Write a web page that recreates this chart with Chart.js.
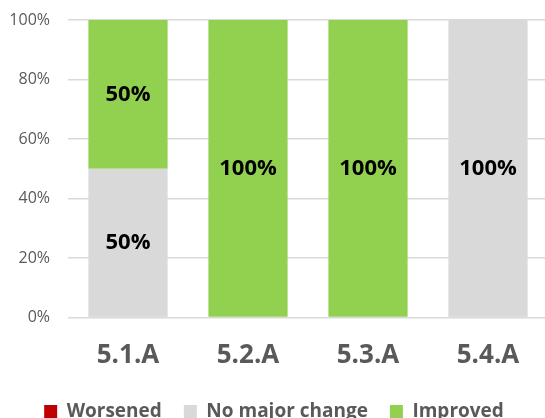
<!DOCTYPE html>
<html>
<head>
<meta charset="utf-8">
<script src="https://cdn.jsdelivr.net/npm/chart.js@4/dist/chart.umd.min.js"></script>
<style>
  html, body { margin: 0; padding: 0; background: #fff; overflow: hidden; }
  #wrap { width: 545px; height: 418px; overflow: hidden; position: relative; }
  canvas { position: absolute; left: 0; top: 0; }
</style>
</head>
<body>
<div id="wrap"><canvas id="chart" width="548" height="431"></canvas></div>
<script>
const categories = ['5.1.A', '5.2.A', '5.3.A', '5.4.A'];
const worsened = [0, 0, 0, 0];
const noMajorChange = [50, 0, 0, 100];
const improved = [50, 100, 100, 0];
const yTicks = [0, 20, 40, 60, 80, 100];

const FONT = '"Open Sans", "Liberation Sans", sans-serif';

// draws the % value in the middle of each segment
const segmentLabels = {
  id: 'segmentLabels',
  afterDatasetsDraw(chart) {
    const ctx = chart.ctx;
    ctx.save();
    ctx.font = 'bold 22px ' + FONT;
    ctx.fillStyle = '#000';
    ctx.textAlign = 'center';
    ctx.textBaseline = 'middle';
    chart.data.datasets.forEach((ds, i) => {
      const meta = chart.getDatasetMeta(i);
      meta.data.forEach((bar, j) => {
        const v = ds.data[j];
        if (!v) return;
        ctx.fillText(v + '%', bar.x, (bar.y + bar.base) / 2);
      });
    });
    ctx.restore();
  }
};

new Chart(document.getElementById('chart'), {
  type: 'bar',
  data: {
    labels: categories,
    datasets: [
      { label: 'Worsened', data: worsened, backgroundColor: '#c00000' },
      { label: 'No major change', data: noMajorChange, backgroundColor: '#d9d9d9' },
      { label: 'Improved', data: improved, backgroundColor: '#92d050' }
    ]
  },
  options: {
    responsive: false,
    animation: false,
    layout: { padding: { top: 20, left: 0, right: 0, bottom: 0 } },
    datasets: { bar: { categoryPercentage: 1, barPercentage: 0.66, borderWidth: 0 } },
    scales: {
      x: {
        stacked: true,
        grid: { display: false },
        border: { display: false },
        ticks: { color: '#595959', font: { family: FONT, size: 26, weight: 'bold' }, padding: 14 },
        afterFit(axis) { axis.height = 62.5; }
      },
      y: {
        stacked: true,
        min: 0,
        max: 100,
        afterBuildTicks(axis) { axis.ticks = yTicks.map(v => ({ value: v })); },
        grid: { color: '#d9d9d9', lineWidth: 1.5, drawTicks: false },
        border: { display: false },
        ticks: { color: '#595959', font: { family: FONT, size: 16 }, padding: 18, callback: v => v + '%' },
        afterFit(axis) {
          axis.width = 68;
          axis.paddingTop = 0;
          axis.paddingBottom = 0;
        }
      }
    },
    plugins: {
      tooltip: { enabled: false },
      legend: {
        position: 'bottom',
        labels: {
          color: '#595959',
          font: { family: FONT, size: 19, weight: 'bold' },
          boxWidth: 13,
          boxHeight: 13,
          padding: 22
        }
      }
    }
  },
  plugins: [segmentLabels]
});
</script>
</body>
</html>
